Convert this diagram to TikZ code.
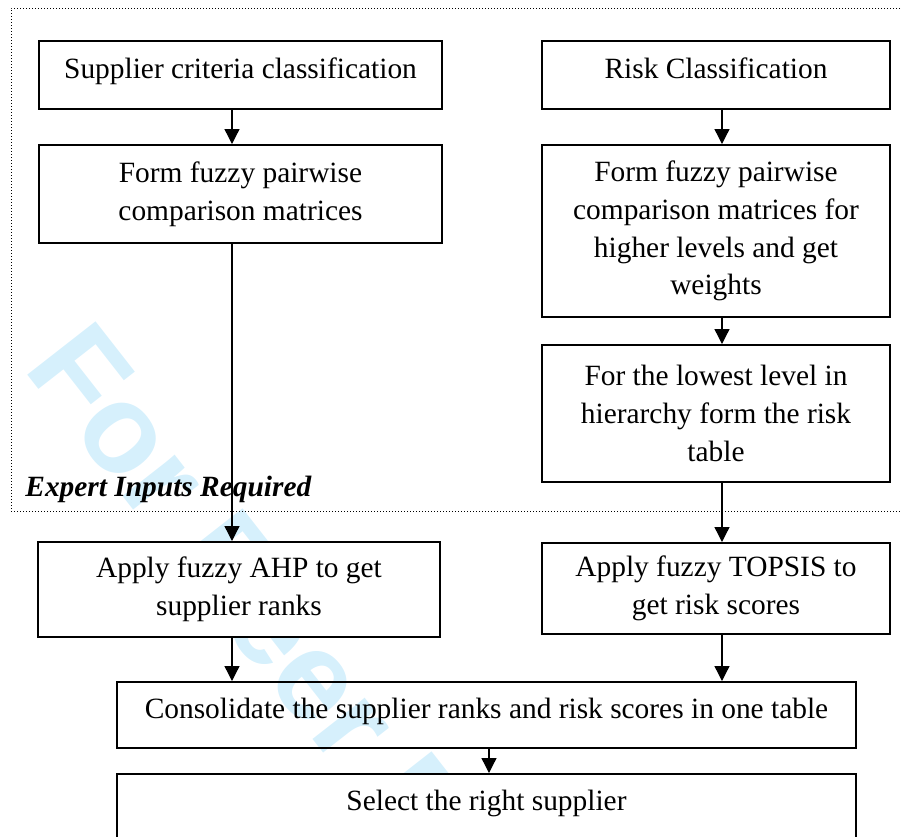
\documentclass[tikz,border=0pt]{standalone}
\usepackage{fontspec}
\setmainfont{Liberation Serif}
\newfontfamily\wmfont{Liberation Sans}
\usetikzlibrary{arrows.meta}
\definecolor{wmcyan}{RGB}{214,240,252}
\begin{document}
\begin{tikzpicture}[x=0.5pt,y=-0.5pt,
  wm/.style={font=\wmfont\bfseries\fontsize{63}{63}\selectfont, text=wmcyan, inner sep=0pt},
  box/.style={draw, line width=1pt, fill=white, inner sep=0pt, align=center,
    font=\fontsize{14.7}{18.85}\selectfont},
  onebox/.style={box, text height=10pt, text depth=7pt},
  arr/.style={line width=0.65pt, -{Triangle[width=7.5pt,length=7.5pt]}},
  frame/.style={line width=0.5pt, dash pattern=on 0.5pt off 1pt},
  lbl/.style={font=\bfseries\itshape\fontsize{14.7}{18}\selectfont, inner sep=0pt}]
\useasboundingbox (0,0) rectangle (902,837);
\clip (0,0) rectangle (902,837);
% watermark
\node[wm, rotate=-52, anchor=base west] (wmk) at (22.5,368) {For Peer Review};
% dotted frame
\draw[frame] (930,8) -- (11,8) -- (11,511) -- (930,511);
% boxes
\node[onebox, minimum width=201.5pt, minimum height=34pt] (b1) at (240.5,75) {Supplier criteria classification};
\node[box, minimum width=201.5pt, minimum height=49pt] (b2) at (240.5,194) {Form fuzzy pairwise\\comparison matrices};
\node[onebox, minimum width=174pt, minimum height=34pt] (r1) at (716,75) {Risk Classification};
\node[box, minimum width=174pt, minimum height=86pt] (r2) at (716,231) {Form fuzzy pairwise\\comparison matrices for\\higher levels and get\\weights};
\node[box, minimum width=174pt, minimum height=68.5pt] (r3) at (716,413.5) {For the lowest level in\\hierarchy form the risk\\table};
\node[box, minimum width=201pt, minimum height=47.5pt] (ahp) at (239,589.5) {Apply fuzzy AHP to get\\supplier ranks};
\node[box, minimum width=174pt, minimum height=45.5pt] (top) at (716,588.5) {Apply fuzzy TOPSIS to\\get risk scores};
\node[onebox, fill=none, minimum width=369.5pt, minimum height=33pt] (con) at (486.5,715) {Consolidate the supplier ranks and risk scores in one table};
\node[box, text height=10pt, text depth=10pt, minimum width=369.5pt, minimum height=36pt] (sel) at (486.5,810) {Select the right supplier};
% label
\node[lbl, anchor=base west] (exp) at (25,496) {Expert Inputs Required};
% connectors
\coordinate (xl) at (232,0);
\coordinate (xr) at (722,0);
\coordinate (xm) at (489,0);
\draw[arr] (b1.south -| xl) -- (b2.north -| xl);
\draw[arr] (b2.south -| xl) -- (ahp.north -| xl);
\draw[arr] (ahp.south -| xl) -- (con.north -| xl);
\draw[arr] (r1.south -| xr) -- (r2.north -| xr);
\draw[arr] (r2.south -| xr) -- (r3.north -| xr);
\draw[arr] (r3.south -| xr) -- (top.north -| xr);
\draw[arr] (top.south -| xr) -- (con.north -| xr);
\draw[arr] (con.south -| xm) -- (sel.north -| xm);
\end{tikzpicture}
\end{document}
